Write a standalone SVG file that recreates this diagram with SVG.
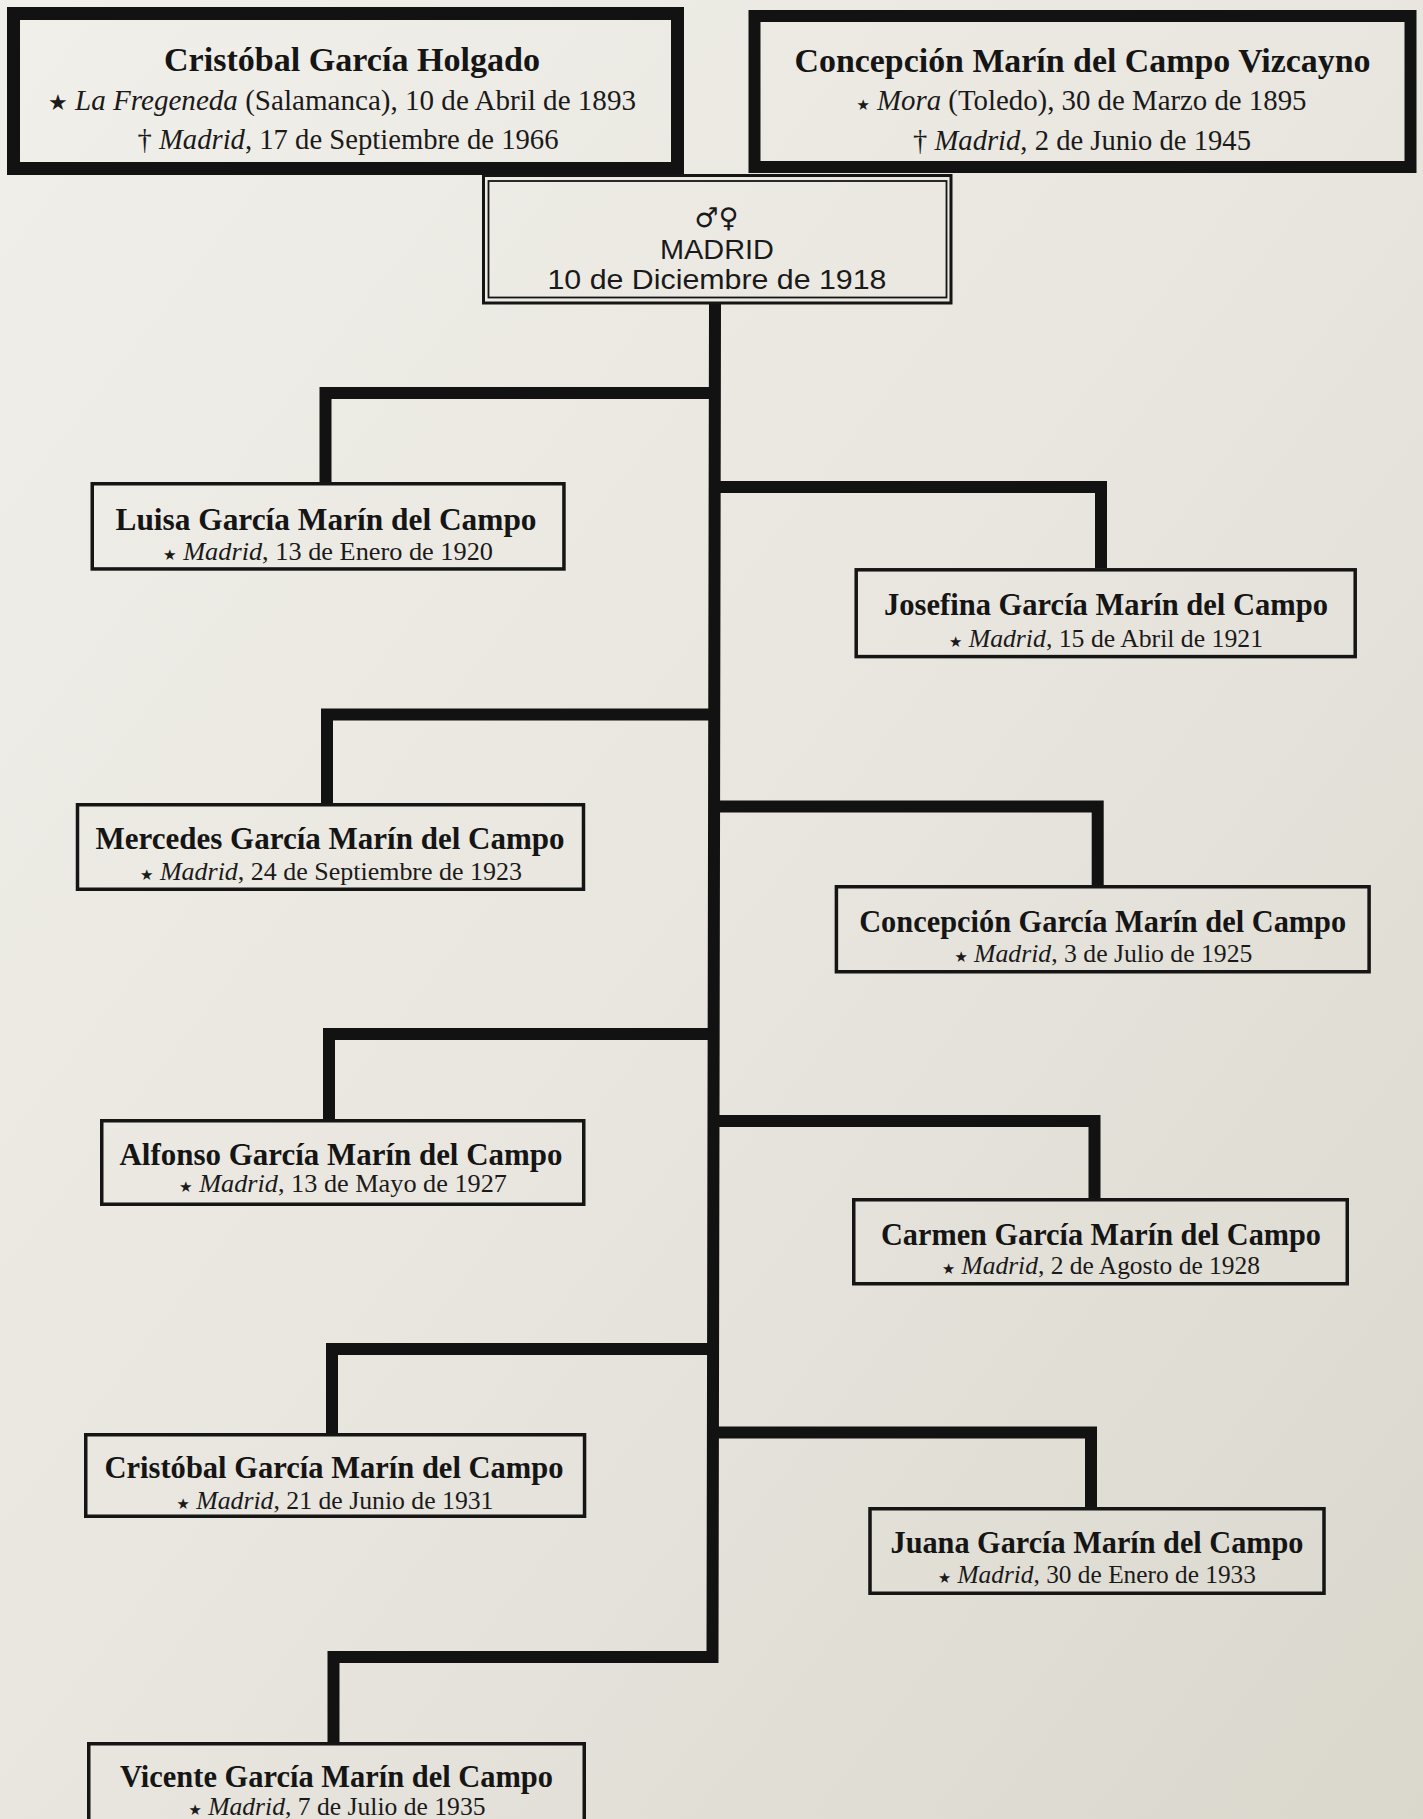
<svg xmlns="http://www.w3.org/2000/svg" width="1423" height="1819" viewBox="0 0 1423 1819">
<defs>
<linearGradient id="bg" x1="0" y1="0" x2="1" y2="1">
<stop offset="0" stop-color="#F1EFE9"/>
<stop offset="0.5" stop-color="#E8E6DF"/>
<stop offset="1" stop-color="#DAD7CD"/>
</linearGradient>
</defs>
<style>
.nm{font-family:"Liberation Serif","Times New Roman",serif;font-weight:bold;font-size:31px;fill:#151515;text-anchor:middle}
.tn{font-size:33px}
.dt{font-family:"Liberation Serif","Times New Roman",serif;font-size:26px;fill:#1a1a1a;text-anchor:middle}
.td{font-size:29px}
.it{font-style:italic}
.st{font-family:"DejaVu Sans",sans-serif;font-size:15px}
.st2{font-family:"DejaVu Sans",sans-serif;font-size:22px}
.mr{font-family:"Liberation Sans",Arial,sans-serif;font-size:28px;fill:#1a1a1a;text-anchor:middle}
.sym{font-family:"DejaVu Sans",sans-serif;font-size:27px;fill:#1a1a1a;text-anchor:middle}
.box{fill:none;stroke:#151515;stroke-width:3.5}
.tbox{fill:none;stroke:#121212}
.conn path{fill:none;stroke:#121212;stroke-width:12;stroke-linejoin:miter;stroke-linecap:butt}
</style>
<rect x="0" y="0" width="1423" height="1819" fill="url(#bg)"/>

<g id="connectors" class="conn">
<path d="M715 304 L712.5 1657 H333.5 V1742"/>
<path d="M714 393 H325.5 V482"/>
<path d="M714 487 H1101 V568"/>
<path d="M714 714.5 H327 V803"/>
<path d="M714 806.6 H1097.7 V885"/>
<path d="M713.5 1034 H329 V1119"/>
<path d="M713.5 1121 H1094.5 V1198"/>
<path d="M713 1349 H332 V1433"/>
<path d="M713 1432.5 H1091 V1507"/>
</g>

<g id="father">
<rect class="tbox" x="13.5" y="13.5" width="664" height="155" stroke-width="13"/>
<text class="nm tn" x="352" y="71" textLength="376" lengthAdjust="spacingAndGlyphs">Cristóbal García Holgado</text>
<text class="dt td" x="342" y="110" textLength="588" lengthAdjust="spacingAndGlyphs"><tspan class="st2">★</tspan> <tspan class="it">La Fregeneda</tspan> (Salamanca), 10 de Abril de 1893</text>
<text class="dt td" x="348" y="149" textLength="421" lengthAdjust="spacingAndGlyphs">† <tspan class="it">Madrid</tspan>, 17 de Septiembre de 1966</text>
</g>

<g id="mother">
<rect class="tbox" x="754.5" y="16" width="656" height="151" stroke-width="12"/>
<text class="nm tn" x="1082.5" y="72" textLength="576" lengthAdjust="spacingAndGlyphs">Concepción Marín del Campo Vizcayno</text>
<text class="dt td" x="1081.5" y="110" textLength="450" lengthAdjust="spacingAndGlyphs"><tspan class="st">★</tspan> <tspan class="it">Mora</tspan> (Toledo), 30 de Marzo de 1895</text>
<text class="dt td" x="1082" y="150" textLength="338" lengthAdjust="spacingAndGlyphs">† <tspan class="it">Madrid</tspan>, 2 de Junio de 1945</text>
</g>

<g id="marriage">
<rect x="483.5" y="175.5" width="467.5" height="127.5" fill="none" stroke="#151515" stroke-width="3"/>
<rect x="488.5" y="181" width="458" height="116.5" fill="none" stroke="#151515" stroke-width="1.8"/>
<text class="sym" x="716.5" y="227">♂♀</text>
<text class="mr" x="717" y="258.5" textLength="114" lengthAdjust="spacingAndGlyphs">MADRID</text>
<text class="mr" x="717" y="288.5" textLength="339" lengthAdjust="spacingAndGlyphs">10 de Diciembre de 1918</text>
</g>

<g id="luisa">
<rect class="box" x="92.25" y="483.75" width="471.7" height="85.2"/>
<text class="nm" x="326" y="530" textLength="421" lengthAdjust="spacingAndGlyphs">Luisa García Marín del Campo</text>
<text class="dt" x="328" y="560" textLength="330" lengthAdjust="spacingAndGlyphs"><tspan class="st">★</tspan> <tspan class="it">Madrid</tspan>, 13 de Enero de 1920</text>
</g>

<g id="josefina">
<rect class="box" x="856.2" y="569.8" width="499" height="86.8"/>
<text class="nm" x="1106" y="615" textLength="444" lengthAdjust="spacingAndGlyphs">Josefina García Marín del Campo</text>
<text class="dt" x="1106" y="646.5" textLength="314" lengthAdjust="spacingAndGlyphs"><tspan class="st">★</tspan> <tspan class="it">Madrid</tspan>, 15 de Abril de 1921</text>
</g>

<g id="mercedes">
<rect class="box" x="77.5" y="804.75" width="506" height="84.5"/>
<text class="nm" x="330" y="849.3" textLength="469" lengthAdjust="spacingAndGlyphs">Mercedes García Marín del Campo</text>
<text class="dt" x="331" y="880" textLength="382" lengthAdjust="spacingAndGlyphs"><tspan class="st">★</tspan> <tspan class="it">Madrid</tspan>, 24 de Septiembre de 1923</text>
</g>

<g id="concepcion">
<rect class="box" x="836.4" y="886.75" width="532.7" height="85"/>
<text class="nm" x="1102.7" y="931.5" textLength="487" lengthAdjust="spacingAndGlyphs">Concepción García Marín del Campo</text>
<text class="dt" x="1103.4" y="962" textLength="298" lengthAdjust="spacingAndGlyphs"><tspan class="st">★</tspan> <tspan class="it">Madrid</tspan>, 3 de Julio de 1925</text>
</g>

<g id="alfonso">
<rect class="box" x="101.75" y="1120.75" width="482" height="83.5"/>
<text class="nm" x="341" y="1165" textLength="443" lengthAdjust="spacingAndGlyphs">Alfonso García Marín del Campo</text>
<text class="dt" x="343" y="1192" textLength="328" lengthAdjust="spacingAndGlyphs"><tspan class="st">★</tspan> <tspan class="it">Madrid</tspan>, 13 de Mayo de 1927</text>
</g>

<g id="carmen">
<rect class="box" x="853.75" y="1199.75" width="493.5" height="84"/>
<text class="nm" x="1101" y="1245" textLength="440" lengthAdjust="spacingAndGlyphs">Carmen García Marín del Campo</text>
<text class="dt" x="1101" y="1274" textLength="318" lengthAdjust="spacingAndGlyphs"><tspan class="st">★</tspan> <tspan class="it">Madrid</tspan>, 2 de Agosto de 1928</text>
</g>

<g id="cristobal">
<rect class="box" x="85.75" y="1434.75" width="498.8" height="81.5"/>
<text class="nm" x="334" y="1478" textLength="459" lengthAdjust="spacingAndGlyphs">Cristóbal García Marín del Campo</text>
<text class="dt" x="335" y="1509" textLength="317" lengthAdjust="spacingAndGlyphs"><tspan class="st">★</tspan> <tspan class="it">Madrid</tspan>, 21 de Junio de 1931</text>
</g>

<g id="juana">
<rect class="box" x="870" y="1508.75" width="454" height="84.5"/>
<text class="nm" x="1097" y="1553" textLength="413" lengthAdjust="spacingAndGlyphs">Juana García Marín del Campo</text>
<text class="dt" x="1097" y="1583" textLength="318" lengthAdjust="spacingAndGlyphs"><tspan class="st">★</tspan> <tspan class="it">Madrid</tspan>, 30 de Enero de 1933</text>
</g>

<g id="vicente">
<rect class="box" x="88.75" y="1743.75" width="495.5" height="100"/>
<text class="nm" x="336.5" y="1786.5" textLength="433" lengthAdjust="spacingAndGlyphs">Vicente García Marín del Campo</text>
<text class="dt" x="337" y="1815" textLength="297" lengthAdjust="spacingAndGlyphs"><tspan class="st">★</tspan> <tspan class="it">Madrid</tspan>, 7 de Julio de 1935</text>
</g>
</svg>
